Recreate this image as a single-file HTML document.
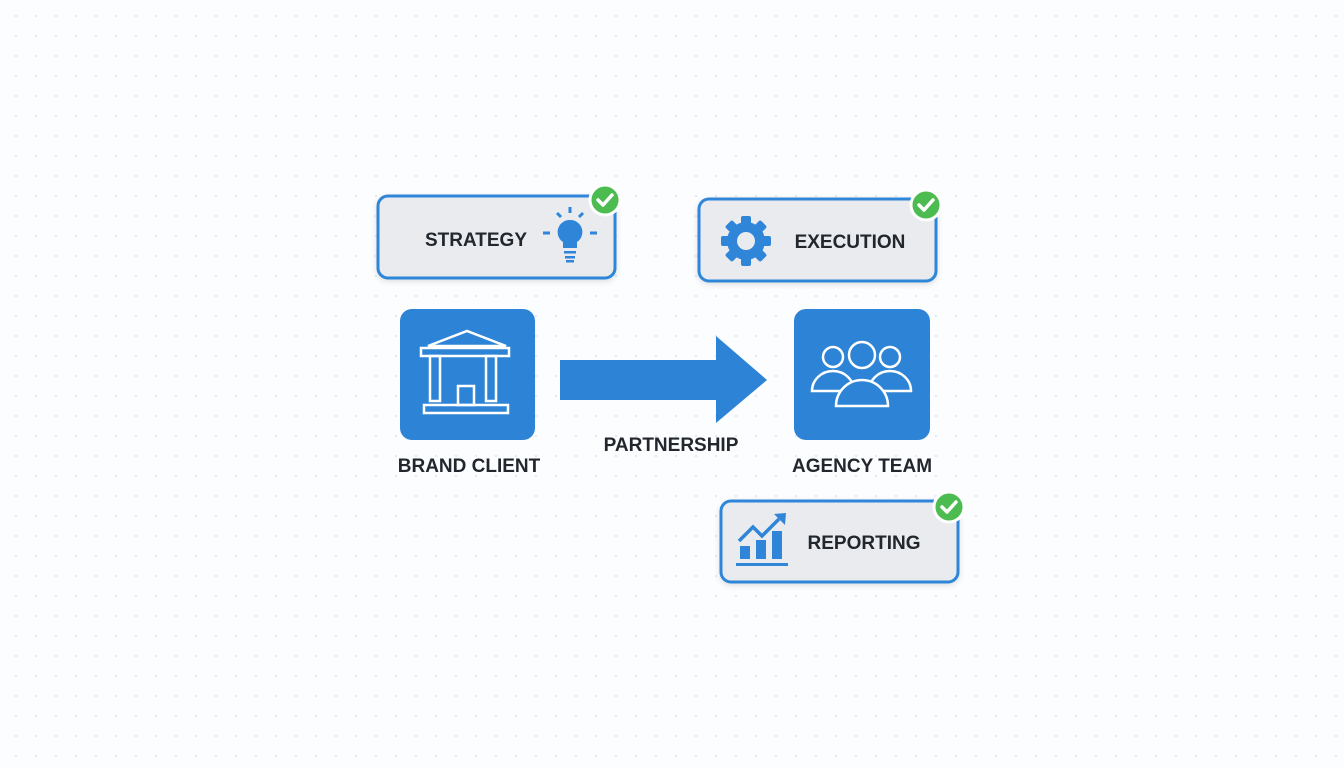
<!DOCTYPE html>
<html><head><meta charset="utf-8"><style>
html,body{margin:0;padding:0;}
body{width:1344px;height:768px;overflow:hidden;background-color:#fcfdfe;
background-image:radial-gradient(circle,#e3e8ee 1px,transparent 1.3px);background-size:20px 20px;background-position:6px 6px;
font-family:"Liberation Sans",sans-serif;}
</style></head><body>
<svg width="1344" height="768" viewBox="0 0 1344 768" style="position:absolute;left:0;top:0" font-family="Liberation Sans, sans-serif" font-weight="bold">
<defs>
<filter id="sh" x="-20%" y="-20%" width="140%" height="150%"><feDropShadow dx="0" dy="2" stdDeviation="3" flood-color="#000" flood-opacity="0.12"/></filter>
</defs>
<rect x="378" y="196" width="237" height="82" rx="10" fill="#e9ebee" stroke="#2f86d8" stroke-width="3" filter="url(#sh)"/>
<text x="476" y="246" text-anchor="middle" font-size="19" fill="#22272e">STRATEGY</text>
<g fill="#2f86d8" stroke="#2f86d8">
<path d="M570 220 a12 12 0 0 1 7 22 v6 h-14 v-6 a12 12 0 0 1 7 -22z" stroke="none"/>
<rect x="564" y="251" width="12" height="2.5" stroke="none"/><rect x="565" y="256" width="10" height="2.5" stroke="none"/><rect x="566" y="260" width="8" height="2.5" stroke="none"/>
<line x1="570" y1="207" x2="570" y2="213" stroke-width="3"/>
<line x1="557" y1="213" x2="561" y2="217" stroke-width="3"/><line x1="583" y1="213" x2="579" y2="217" stroke-width="3"/>
<line x1="543" y1="233" x2="550" y2="233" stroke-width="3"/><line x1="590" y1="233" x2="597" y2="233" stroke-width="3"/>
</g>
<circle cx="605" cy="200" r="15" fill="#4cbb50" stroke="#fff" stroke-width="3"/>
<path d="M598 200 l5 5 l9 -10" stroke="#fff" stroke-width="3.5" fill="none" stroke-linecap="round" stroke-linejoin="round"/>
<rect x="699" y="199" width="237" height="82" rx="10" fill="#e9ebee" stroke="#2f86d8" stroke-width="3" filter="url(#sh)"/>
<text x="850" y="248" text-anchor="middle" font-size="19" fill="#22272e">EXECUTION</text>
<g transform="translate(746,241)">
<g fill="#2f86d8">
<rect x="-5" y="-25" width="10" height="50" rx="2"/>
<rect x="-5" y="-25" width="10" height="50" rx="2" transform="rotate(45)"/>
<rect x="-5" y="-25" width="10" height="50" rx="2" transform="rotate(90)"/>
<rect x="-5" y="-25" width="10" height="50" rx="2" transform="rotate(135)"/>
<circle r="19"/>
</g>
<circle r="9" fill="#e9ebee"/>
</g>
<circle cx="926" cy="205" r="15" fill="#4cbb50" stroke="#fff" stroke-width="3"/>
<path d="M919 205 l5 5 l9 -10" stroke="#fff" stroke-width="3.5" fill="none" stroke-linecap="round" stroke-linejoin="round"/>
<rect x="721" y="501" width="237" height="81" rx="10" fill="#e9ebee" stroke="#2f86d8" stroke-width="3" filter="url(#sh)"/>
<text x="864" y="549" text-anchor="middle" font-size="19" fill="#22272e">REPORTING</text>
<g fill="#2f86d8">
<rect x="740" y="546" width="10" height="13"/><rect x="756" y="540" width="10" height="19"/><rect x="772" y="531" width="10" height="28"/>
<rect x="736" y="563" width="52" height="3"/>
<path d="M739 541 l14 -14 l9 9 l17 -17" stroke="#2f86d8" stroke-width="3.5" fill="none"/>
<path d="M786 513 l-12 1 l11 11z"/>
</g>
<circle cx="949" cy="507" r="15" fill="#4cbb50" stroke="#fff" stroke-width="3"/>
<path d="M942 507 l5 5 l9 -10" stroke="#fff" stroke-width="3.5" fill="none" stroke-linecap="round" stroke-linejoin="round"/>
<rect x="400" y="309" width="135" height="131" rx="12" fill="#2d84d6"/>
<g stroke="#fff" stroke-width="2.5" fill="none">
<path d="M428 346 L467 331 L506 346 Z"/>
<rect x="421" y="348" width="88" height="8"/>
<rect x="430" y="356" width="10" height="45"/><rect x="486" y="356" width="10" height="45"/>
<rect x="458" y="386" width="16" height="19"/>
<rect x="424" y="405" width="84" height="8"/>
</g>
<text x="469" y="472" text-anchor="middle" font-size="19" fill="#22272e">BRAND CLIENT</text>
<path d="M560 360 H716 V336 L767 380 L716 423 V400 H560 Z" fill="#2d84d6"/>
<text x="671" y="451" text-anchor="middle" font-size="19" fill="#22272e">PARTNERSHIP</text>
<rect x="794" y="309" width="136" height="131" rx="12" fill="#2d84d6"/>
<g stroke="#fff" stroke-width="2.5" fill="#2d84d6">
<circle cx="833" cy="357" r="10"/><circle cx="890" cy="357" r="10"/>
<path d="M812 391 a21 20 0 0 1 42 0 z"/><path d="M869 391 a21 20 0 0 1 42 0 z"/>
<circle cx="862" cy="355" r="13"/>
<path d="M836 406 a26 26 0 0 1 52 0 z"/>
</g>
<text x="862" y="472" text-anchor="middle" font-size="19" fill="#22272e">AGENCY TEAM</text>
</svg>
</body></html>
